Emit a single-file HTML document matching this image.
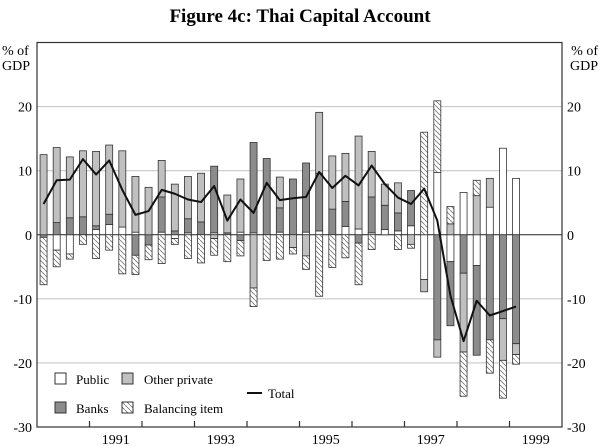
<!DOCTYPE html>
<html><head><meta charset="utf-8">
<style>
body{margin:0;background:#fff;}
svg{display:block;font-family:"Liberation Serif",serif;}
</style></head>
<body>
<svg id="chart" width="600" height="446" viewBox="0 0 600 446">
<defs>
<pattern id="hatch" width="5" height="5" patternUnits="userSpaceOnUse">
<rect width="5" height="5" fill="#fff"/>
<path d="M-1,-1 L6,6" stroke="#777" stroke-width="0.8"/>
</pattern>
</defs>
<text x="300" y="22" text-anchor="middle" font-size="19" font-weight="bold">Figure 4c: Thai Capital Account</text>
<g id="grid"></g>
<g id="bars"></g>
<g id="line"></g>
<g id="axes"></g>
<g id="legend">
<rect x="55" y="373" width="11" height="11" fill="#fff" stroke="#333"/>
<text x="76" y="384" font-size="13">Public</text>
<rect x="122" y="373" width="11" height="11" fill="#c0c0c0" stroke="#333"/>
<text x="144" y="384" font-size="13">Other private</text>
<rect x="55" y="402" width="11" height="11" fill="#8c8c8c" stroke="#333"/>
<text x="76" y="413" font-size="13">Banks</text>
<rect x="122" y="402" width="11" height="11" fill="url(#hatch)" stroke="#333"/>
<text x="144" y="413" font-size="13">Balancing item</text>
<line x1="247" y1="393" x2="262" y2="393" stroke="#111" stroke-width="2"/>
<text x="268" y="398" font-size="13">Total</text>
</g>
</svg>
<script>
const publicVals = [0,-2.4,-3.0,0,0.8,1.6,1.2,0.4,0,0.4,-0.6,0.3,0,0.3,0,0.4,0.3,0,0.4,0,0.4,0.6,0,1.3,0.9,0.3,0.8,0.6,1.4,-7.0,9.7,-4.2,6.6,-4.8,4.3,13.5,8.8];
const banksVals = [-0.4,1.9,2.65,2.8,0.6,1.6,0,-3.2,-1.6,5.5,0.6,2.2,2.0,10.4,0.3,-0.9,14.1,11.9,3.8,8.7,10.8,9.0,4.0,3.9,-1.3,5.6,3.8,2.8,5.5,0,-16.4,-10.0,-6.0,-14.0,-16.4,-13.1,-17.0];
const otherVals = [12.5,11.7,9.5,10.3,11.6,10.8,11.9,8.7,7.4,5.7,7.3,6.6,7.6,-0.6,5.9,8.3,-8.3,0,4.8,-2.0,-3.3,9.5,8.3,7.5,14.5,7.1,3.3,4.7,-1.5,-1.9,-2.7,1.7,-12.3,6.1,4.5,-6.5,-1.7];
const balVals = [-7.4,-2.6,-0.8,-1.5,-3.7,-2.4,-6.1,-3.0,-2.3,-4.5,-0.9,-3.7,-4.4,-2.6,-4.2,-2.4,-2.9,-4.0,-3.8,-1.0,-2.1,-9.6,-5.1,-3.6,-6.5,-2.3,0,-2.3,-0.6,16.0,11.2,2.7,-6.9,2.4,-5.2,-5.9,-1.5];
const totalVals = [4.8,8.5,8.6,11.8,9.4,11.6,7.0,3.1,3.7,7.0,6.4,5.5,5.1,7.6,2.2,5.5,3.4,8.1,5.4,5.7,5.9,9.8,7.3,9.2,7.7,10.8,7.9,5.8,4.8,7.2,2.2,-9.5,-16.6,-10.3,-12.6,-11.9,-11.2];
const yTicks = [20,10,0,-10,-20,-30];
const yearLabels = ["1991","1993","1995","1997","1999"];

const NS="http://www.w3.org/2000/svg";
const L=37,R=562,T=42.5,B=427;
const yMin=-30,yMax=30,nQ=40;
function y(v){return B-(v-yMin)/(yMax-yMin)*(B-T);}
function xq(i){return L+(R-L)/nQ*(i+0.5);}
function mk(tag,attrs,parent){const e=document.createElementNS(NS,tag);for(const k in attrs)e.setAttribute(k,attrs[k]);parent.appendChild(e);return e;}
const grid=document.getElementById('grid'),bars=document.getElementById('bars'),lineG=document.getElementById('line'),axes=document.getElementById('axes');

yTicks.forEach(t=>{
  if(t!==yMin&&t!==0){const g=mk('line',{x1:L,x2:R,y1:y(t),y2:y(t),stroke:'#c8c8c8','stroke-width':1.2},grid);
  
  }
  const a=mk('text',{x:L-5,y:y(t)+5,'text-anchor':'end','font-size':14},axes);a.textContent=t;
  
  
  const b=mk('text',{x:R+5,y:y(t)+5,'text-anchor':'start','font-size':14},axes);b.textContent=t;
  
  
});

const series=[['public',publicVals,'#fff'],['banks',banksVals,'#8c8c8c'],['other-private',otherVals,'#c0c0c0'],['balancing',balVals,'url(#hatch)']];
const bw=7;
for(let i=0;i<publicVals.length;i++){
  let pos=0,neg=0;
  series.forEach(s=>{
    const v=s[1][i];if(!v)return;
    let a,b;
    if(v>0){a=pos;b=pos+v;pos=b;}else{a=neg;b=neg+v;neg=b;}
    const r=mk('rect',{x:xq(i)-bw/2,y:Math.min(y(a),y(b)),width:bw,height:Math.abs(y(a)-y(b)),fill:s[2],stroke:'#333','stroke-width':0.8},bars);
    
    
  });
}
const zl=mk('line',{x1:L,x2:R,y1:y(0),y2:y(0),stroke:'#222','stroke-width':1},grid);



const pts=totalVals.map((v,i)=>xq(i)+','+y(v)).join(' ');
const pl=mk('polyline',{points:pts,fill:'none',stroke:'#111','stroke-width':2,'stroke-linejoin':'round'},lineG);



const fr=mk('rect',{x:L,y:T,width:R-L,height:B-T,fill:'none',stroke:'#333','stroke-width':1.2},axes);


for(let k=1;k<10;k++){
  const xx=L+(R-L)/10*k;
  const t=mk('line',{x1:xx,x2:xx,y1:B,y2:B-6,stroke:'#333','stroke-width':1.2},axes);
  
  
}
yearLabels.forEach((lab,j)=>{
  const xx=L+(R-L)/10*(1+2*j+0.5);
  const t=mk('text',{x:xx,y:444,'text-anchor':'middle','font-size':14},axes);t.textContent=lab;
  
  
});
[[2,'start','left'],[598,'end','right']].forEach(([xx,anc,side])=>{
  const a=mk('text',{x:xx,y:55,'text-anchor':anc,'font-size':14},axes);a.textContent='% of';
  
  
  const b=mk('text',{x:xx,y:70,'text-anchor':anc,'font-size':14},axes);b.textContent='GDP';
  
  
});
</script>
</body></html>
